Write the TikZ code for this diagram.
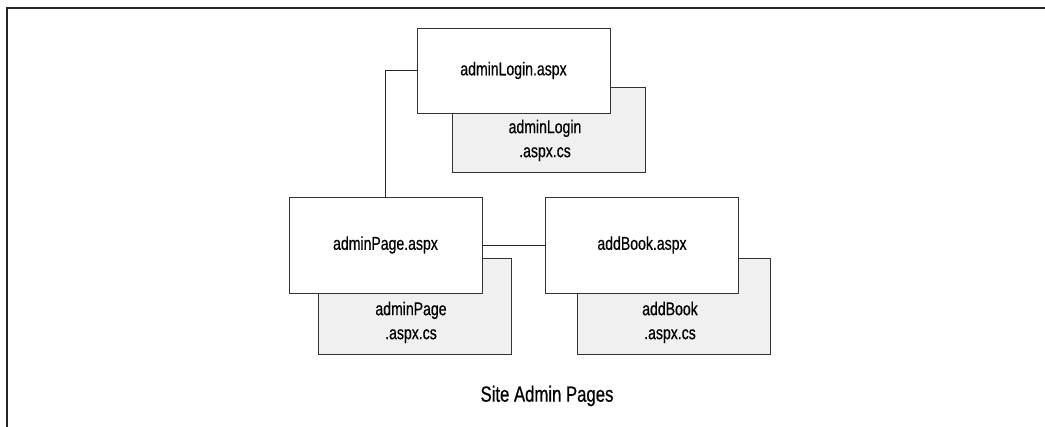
\documentclass[tikz,border=0pt]{standalone}
\usepackage{fontspec}
\setmainfont{Liberation Sans}[FakeStretch=0.76, FakeBold=0.5]
\begin{document}
\begin{tikzpicture}[x=1pt, y=-1pt, line join=miter, font=\fontsize{18.5}{24}\selectfont]
	\tikzset{
	page/.style={draw=black!80, line width=0.8pt, fill=white, minimum width=193pt, inner sep=0pt},
	code/.style={page, fill=black!6},
	codetext/.style={align=center, inner sep=0pt},
	wire/.style={draw=black!85, line width=0.8pt}
	}
	\useasboundingbox (0,0) rectangle (1045,427);
	% frame
	\draw[black!85, line width=2pt] (7,427) |- (1045,8);
	% code-behind files first, pages on top
	\node[code, minimum height=85pt] (loginCs) at (549,129.5) {};
	\node[code, minimum height=96pt] (pageCs) at (415,306) {};
	\node[code, minimum height=96pt] (bookCs) at (674,306) {};
	\node[codetext] (loginCsText) at ([xshift=-4pt, yshift=32pt]loginCs.south) {adminLogin\\.aspx.cs};
	\node[codetext] (pageCsText) at ([xshift=-4pt, yshift=32pt]pageCs.south) {adminPage\\.aspx.cs};
	\node[codetext] (bookCsText) at ([xshift=-4pt, yshift=32pt]bookCs.south) {addBook\\.aspx.cs};
	\node[page, minimum height=85pt] (login) at (513.5,70.5) {adminLogin.aspx};
	\node[page, minimum height=96pt] (adminPage) at (385.5,245) {adminPage.aspx};
	\node[page, minimum height=96pt] (addBook) at (642,245) {addBook.aspx};
	% links
	\draw[wire] (login.west) -| (adminPage.north);
	\draw[wire] (adminPage.east) -- (addBook.west);
	\node (title) at (547,396) {\fontsize{22}{24}\selectfont Site Admin Pages};
\end{tikzpicture}
\end{document}
